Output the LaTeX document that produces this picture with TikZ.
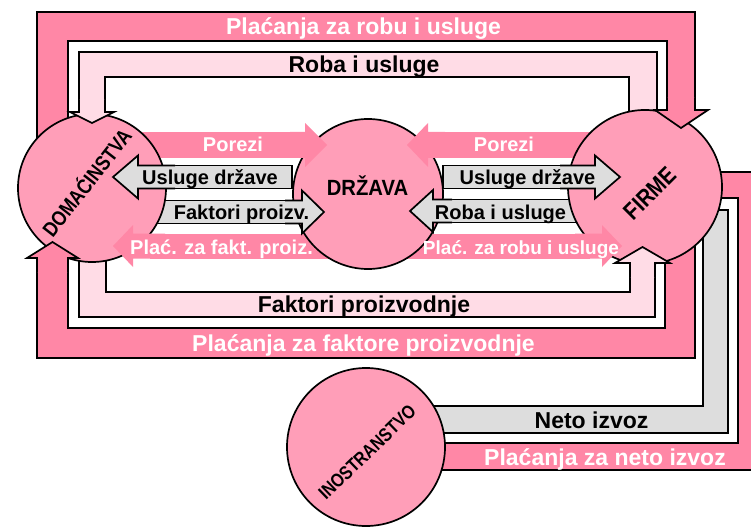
\documentclass[tikz,border=0pt]{standalone}
\usepackage{fontspec}
\setmainfont{Liberation Sans}
\newfontfamily\condfont[FakeStretch=0.84]{Liberation Sans}
\newfontfamily\semifont[FakeStretch=0.92]{Liberation Sans}
\definecolor{bandpink}{RGB}{255,135,166}
\definecolor{circpink}{RGB}{255,158,184}
\definecolor{lightpink}{RGB}{255,220,230}
\definecolor{flowgray}{RGB}{221,221,221}
\tikzset{
  outl/.style={draw=black, line width=1.7pt, line join=miter, miter limit=6},
  pinkband/.style={fill=bandpink, outl},
  lightband/.style={fill=lightpink, outl},
  grayband/.style={fill=flowgray, outl},
  agent/.style={circle, fill=circpink, draw=black, line width=1.7pt, inner sep=0pt},
  bandlbl/.style={anchor=base, inner sep=0pt, font=\fontsize{23}{26}\selectfont\bfseries},
  arrlbl/.style={anchor=base, inner sep=0pt, font=\fontsize{20}{23}\selectfont\bfseries},
  wt/.style={text=white},
}
\begin{document}
\begin{tikzpicture}[x=1pt,y=-1pt]
\useasboundingbox (0,0) rectangle (751,529);
\clip (0,0) rectangle (751,529);
% ---------- big bands ----------
\draw[pinkband] (37,160) -- (37,12) -- (695,12) -- (695,104) -- (667,104) -- (667,41) -- (68,41) -- (68,160) -- cycle;
\draw[lightband] (629,150) -- (629,77) -- (105,77) -- (105,104) -- (79,104) -- (79,52) -- (657,52) -- (657,150) -- cycle;
\draw[lightband] (79,230) -- (79,317) -- (655,317) -- (655,270) -- (630,270) -- (630,292) -- (106,292) -- (106,230) -- cycle;
\draw[pinkband] (665,230) -- (695,230) -- (695,358) -- (37,358) -- (37,266) -- (68,266) -- (68,328) -- (665,328) -- cycle;
\draw[grayband] (690,210) -- (728,210) -- (728,433) -- (400,433) -- (400,406) -- (703,406) -- (703,225) -- (690,225) -- cycle;
\draw[pinkband] (700,172) -- (770,172) -- (770,470) -- (400,470) -- (400,443) -- (738,443) -- (738,198) -- (700,198) -- cycle;
% ---------- inner arrow shafts ----------
\fill[bandpink] (120,132) rectangle (300,158);
\fill[bandpink] (430,132) rectangle (610,158);
\fill[bandpink] (150,233.5) rectangle (335,258.5);
\fill[bandpink] (400,233.5) rectangle (590,258.5);
\draw[grayband] (150,165.5) rectangle (292,188.5);
\draw[grayband] (150,200.5) rectangle (300,223.5);
\draw[grayband] (443,165.5) rectangle (590,188.5);
\draw[grayband] (440,199.5) rectangle (590,222.5);
% ---------- agents ----------
\node[agent, minimum size=148pt] (dom) at (92,188) {};
\node[agent, minimum size=150pt] (drz) at (368,194) {};
\node[agent, minimum size=154pt] (fir) at (645,187) {};
\node[agent, minimum size=158pt] (ino) at (366,447) {};
% ---------- band arrow heads ----------
\fill[bandpink] (667,98) -- (667,110) -- (655,110) -- (681,128) -- (708,110) -- (695,110) -- (695,98) -- cycle;
\draw[outl] (667,98) -- (667,110) -- (655,110) -- (681,128) -- (708,110) -- (695,110) -- (695,98);
\fill[lightpink] (79,100) -- (79,112) -- (70,112) -- (92,123) -- (114,112) -- (105,112) -- (105,100) -- cycle;
\draw[outl] (79,100) -- (79,112) -- (70,112) -- (92,123) -- (114,112) -- (105,112) -- (105,100);
\fill[bandpink] (37,272) -- (37,258) -- (27,258) -- (52.5,242) -- (78,258) -- (68,258) -- (68,272) -- cycle;
\draw[outl] (37,272) -- (37,258) -- (27,258) -- (52.5,242) -- (78,258) -- (68,258) -- (68,272);
\fill[lightpink] (630,277) -- (630,263) -- (615,263) -- (642.5,247) -- (670,263) -- (655,263) -- (655,277) -- cycle;
\draw[outl] (630,277) -- (630,263) -- (615,263) -- (642.5,247) -- (670,263) -- (655,263) -- (655,277);
% ---------- inner arrow heads ----------
\fill[bandpink] (290,132) -- (305,132) -- (305,123) -- (327,145) -- (305,167) -- (305,158) -- (290,158) -- cycle;
\fill[bandpink] (445,132) -- (428,132) -- (428,123) -- (407,145) -- (428,167) -- (428,158) -- (445,158) -- cycle;
\fill[bandpink] (165,233.5) -- (133,233.5) -- (133,225) -- (113,246) -- (133,267) -- (133,258.5) -- (165,258.5) -- cycle;
\fill[bandpink] (575,233.5) -- (602,233.5) -- (602,225) -- (622,246) -- (602,267) -- (602,258.5) -- (575,258.5) -- cycle;
\fill[flowgray] (175,165.5) -- (138,165.5) -- (138,155.5) -- (113,177) -- (138,198.5) -- (138,188.5) -- (175,188.5) -- cycle;
\draw[outl] (175,165.5) -- (138,165.5) -- (138,155.5) -- (113,177) -- (138,198.5) -- (138,188.5) -- (175,188.5);
\fill[flowgray] (285,200.5) -- (302,200.5) -- (302,190.5) -- (324,212) -- (302,233.5) -- (302,223.5) -- (285,223.5) -- cycle;
\draw[outl] (285,200.5) -- (302,200.5) -- (302,190.5) -- (324,212) -- (302,233.5) -- (302,223.5) -- (285,223.5);
\fill[flowgray] (560,165.5) -- (595,165.5) -- (595,155.5) -- (620,177) -- (595,198.5) -- (595,188.5) -- (560,188.5) -- cycle;
\draw[outl] (560,165.5) -- (595,165.5) -- (595,155.5) -- (620,177) -- (595,198.5) -- (595,188.5) -- (560,188.5);
\fill[flowgray] (452,199.5) -- (433,199.5) -- (433,190) -- (410,211) -- (433,232) -- (433,222.5) -- (452,222.5) -- cycle;
\draw[outl] (452,199.5) -- (433,199.5) -- (433,190) -- (410,211) -- (433,232) -- (433,222.5) -- (452,222.5);
% ---------- labels ----------
\node[bandlbl, wt] (t1) at (363.5,34.7) {Plaćanja za robu i usluge};
\node[bandlbl] (t2) at (364,72.7) {Roba i usluge};
\node[bandlbl] (t3) at (364,312.7) {Faktori proizvodnje};
\node[bandlbl, wt] (t4) at (363.5,351) {Plaćanja za faktore proizvodnje};
\node[bandlbl] (t5) at (591.5,428) {Neto izvoz};
\node[bandlbl, wt] (t6) at (605,465) {Plaćanja za neto izvoz};
\node[arrlbl, wt] (a1) at (233,152) {Porezi};
\node[arrlbl] (a2) at (210,185) {Usluge države};
\node[arrlbl] (a3) at (241.5,219) {Faktori proizv.};
\node[arrlbl, wt] (a4) at (221.5,254) {Plać. za fakt. proiz.};
\node[arrlbl, wt] (a5) at (504,152) {Porezi};
\node[arrlbl] (a6) at (527.5,185) {Usluge države};
\node[arrlbl] (a7) at (500.5,219) {Roba i usluge};
\node[arrlbl, wt, font=\fontsize{19}{22}\selectfont\bfseries] (a8) at (521,254) {Plać. za robu i usluge};
\node[inner sep=0pt, text height=15pt, text depth=0pt, rotate=52, font=\fontsize{21}{24}\selectfont\condfont\bfseries] (l1) at (87,183) {DOMAĆINSTVA};
\node[anchor=base, inner sep=0pt, font=\fontsize{22}{25}\selectfont\semifont\bfseries] (l2) at (367.5,196) {DRŽAVA};
\node[inner sep=0pt, text height=17.2pt, text depth=0pt, rotate=45, font=\fontsize{24}{27}\selectfont\condfont\bfseries] (l3) at (650,193) {FIRME};
\node[inner sep=0pt, text height=13.6pt, text depth=0pt, rotate=44, font=\fontsize{19}{22}\selectfont\condfont\bfseries] (l4) at (367,452) {INOSTRANSTVO};
\end{tikzpicture}
\end{document}
